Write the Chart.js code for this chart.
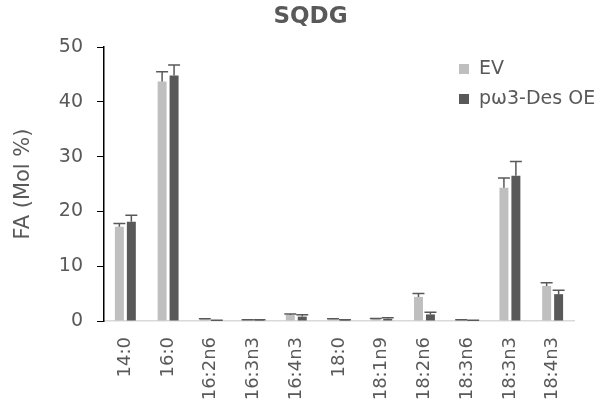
<!DOCTYPE html>
<html>
<head>
<meta charset="utf-8">
<script src="https://cdn.jsdelivr.net/npm/chart.js@4"></script>
<style>
html,body{margin:0;padding:0;background:#fff;}
#wrap{width:606px;height:409px;position:relative;}
</style>
</head>
<body>
<div id="wrap"><canvas id="c" width="606" height="409"></canvas></div>
<script>
const categories = ['14:0','16:0','16:2n6','16:3n3','16:4n3','18:0','18:1n9','18:2n6','18:3n6','18:3n3','18:4n3'];
const evValues = [17.2, 43.7, 0.3, 0.2, 1.1, 0.3, 0.35, 4.4, 0.2, 24.3, 6.4];
const evErrors = [0.6, 1.8, 0.1, 0.05, 0.2, 0.1, 0.1, 0.6, 0.05, 1.8, 0.6];
const oeValues = [18.1, 44.8, 0.1, 0.2, 0.8, 0.2, 0.4, 1.2, 0.1, 26.5, 4.9];
const oeErrors = [1.2, 1.9, 0.05, 0.05, 0.35, 0.05, 0.2, 0.4, 0.05, 2.6, 0.7];
const yTicks = [0, 10, 20, 30, 40, 50];
const chartTitle = 'SQDG';

const FONT = "'DejaVu Sans', sans-serif";
const TEXT = '#595959';

const errorBars = {
  id: 'errorBars',
  afterDatasetsDraw(chart) {
    const ctx = chart.ctx;
    const y = chart.scales.y;
    chart.data.datasets.forEach((ds, i) => {
      const meta = chart.getDatasetMeta(i);
      meta.data.forEach((bar, j) => {
        const v = ds.data[j], e = ds.errors[j];
        const yTop = y.getPixelForValue(v + e);
        const yBase = y.getPixelForValue(v);
        const half = bar.width / 2 + 1.5;
        ctx.save();
        ctx.strokeStyle = '#595959';
        ctx.lineWidth = 1.5;
        ctx.beginPath();
        ctx.moveTo(bar.x, yBase);
        ctx.lineTo(bar.x, yTop);
        ctx.moveTo(bar.x - half, yTop);
        ctx.lineTo(bar.x + half, yTop);
        ctx.stroke();
        ctx.restore();
      });
    });
  }
};

const titleAndLegend = {
  id: 'titleAndLegend',
  afterDraw(chart) {
    const ctx = chart.ctx;
    ctx.save();
    ctx.fillStyle = TEXT;
    ctx.font = "bold 23px " + FONT;
    ctx.textAlign = 'center';
    ctx.textBaseline = 'middle';
    ctx.fillText(chartTitle, 310.5, 17);
    ctx.restore();
    const x0 = 459, ys = [69, 99];
    chart.data.datasets.forEach((ds, i) => {
      ctx.save();
      ctx.fillStyle = ds.backgroundColor;
      ctx.fillRect(x0, ys[i] - 5, 10, 10);
      ctx.fillStyle = TEXT;
      ctx.font = "19px " + FONT;
      ctx.textBaseline = 'middle';
      ctx.textAlign = 'left';
      ctx.fillText(ds.label, x0 + 20, ys[i]);
      ctx.restore();
    });
  }
};

new Chart(document.getElementById('c'), {
  type: 'bar',
  data: {
    labels: categories,
    datasets: [
      { label: 'EV', data: evValues, errors: evErrors, backgroundColor: '#BFBFBF',
        categoryPercentage: 0.56, barPercentage: 0.75 },
      { label: 'pω3-Des OE', data: oeValues, errors: oeErrors, backgroundColor: '#595959',
        categoryPercentage: 0.56, barPercentage: 0.75 }
    ]
  },
  options: {
    responsive: false,
    animation: false,
    layout: { padding: { left: 5, right: 32, top: 47, bottom: 0 } },
    plugins: {
      legend: { display: false },
      tooltip: { enabled: false },
      title: { display: false }
    },
    scales: {
      x: {
        grid: { display: false, drawTicks: false },
        border: { display: true, color: '#D9D9D9', width: 1.5 },
        ticks: { color: TEXT, font: { family: FONT, size: 18 }, minRotation: 90, maxRotation: 90, padding: 16, autoSkip: false },
        afterFit(s) { s.height = 88; }
      },
      y: {
        min: 0, max: 50,
        afterBuildTicks(s) { s.ticks = yTicks.map(v => ({ value: v })); },
        grid: { drawOnChartArea: false, drawTicks: true, tickLength: 7, color: '#000' },
        border: { display: true, color: '#000', width: 1.5 },
        ticks: { color: TEXT, font: { family: FONT, size: 19 }, padding: 14 },
        title: { display: true, text: 'FA (Mol %)', color: TEXT, font: { family: FONT, size: 21 }, padding: { top: 6, bottom: 0 } },
        afterFit(s) { s.width = 99; }
      }
    }
  },
  plugins: [errorBars, titleAndLegend]
});
</script>
</body>
</html>
